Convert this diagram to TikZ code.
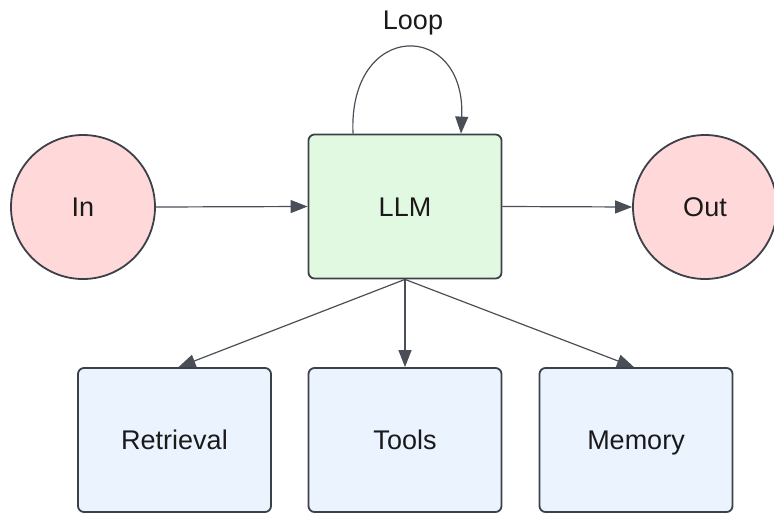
\documentclass[tikz,border=0pt]{standalone}
\usepackage{fontspec}
\setmainfont{Liberation Sans}
\usetikzlibrary{arrows.meta,calc}
\definecolor{edgegray}{HTML}{3C4049}
\definecolor{arrowgray}{HTML}{4A4F57}
\definecolor{pinkfill}{HTML}{FFD8D9}
\definecolor{greenfill}{HTML}{E1F8E1}
\definecolor{bluefill}{HTML}{EBF3FE}
\definecolor{txt}{HTML}{1A1A1A}
\tikzset{
  lbl/.style={font=\fontsize{27}{32}\selectfont, text=txt, text height=19.3pt, text depth=0pt},
  circ/.style={lbl, circle, draw=edgegray, line width=1.8pt, fill=pinkfill, minimum size=144pt, inner sep=0pt},
  llmbox/.style={lbl, rectangle, rounded corners=6pt, draw=edgegray, line width=1.8pt, fill=greenfill, minimum width=193pt, minimum height=144pt},
  subbox/.style={lbl, rectangle, rounded corners=6pt, draw=edgegray, line width=1.8pt, fill=bluefill, minimum width=193pt, minimum height=144pt},
  conn/.style={draw=arrowgray, line width=1.2pt, -{Triangle[length=17pt,width=13pt]}},
}
\begin{document}
\begin{tikzpicture}[x=1pt,y=-1pt]
\useasboundingbox (0,0) rectangle (774,512);
\node[circ] (in) at (83,207) {In};
\node[circ] (out) at (705,207) {Out};
\node[llmbox] (llm) at (405,206.5) {LLM};
\node[subbox] (ret) at (174.5,440) {Retrieval};
\node[subbox] (tools) at (405,440) {Tools};
\node[subbox] (mem) at (636,440) {Memory};
\node[lbl] (loop) at (413,20) {Loop};
\draw[conn] (in.east) -- (llm.west);
\draw[conn] (llm.east) -- (out.west);
\draw[conn] (llm.south) -- ([xshift=4pt]ret.north);
\draw[conn] (llm.south) -- (tools.north);
\draw[conn] (llm.south) -- ([xshift=-2pt]mem.north);
\draw[conn] ([xshift=-52pt]llm.north) .. controls +(-5,-114) and +(5,-114) .. ([xshift=56pt]llm.north);
\end{tikzpicture}
\end{document}
